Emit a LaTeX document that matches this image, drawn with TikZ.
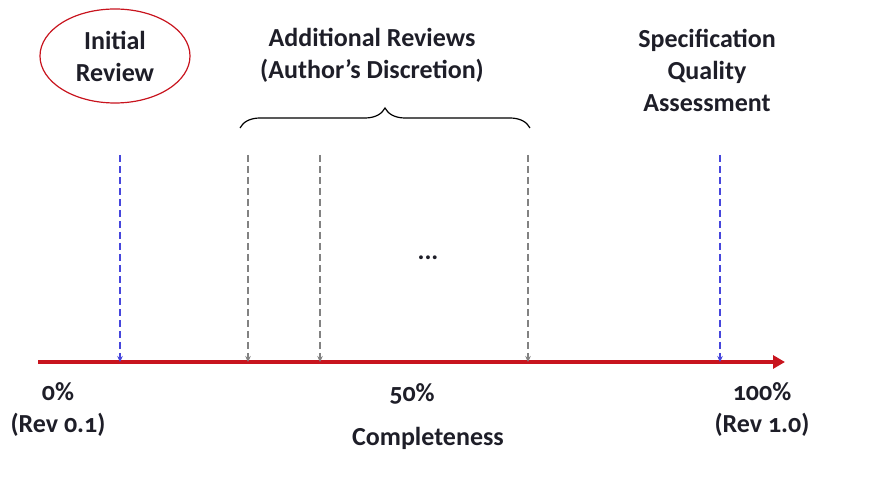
\documentclass[tikz,border=0pt]{standalone}
\usepackage{fontspec}
\setmainfont{Carlito}[Numbers=OldStyle]
\usepackage{xcolor}
\usetikzlibrary{arrows.meta,decorations.pathreplacing,shapes.geometric}

\definecolor{axisred}{RGB}{200,20,30}
\definecolor{tickblue}{RGB}{70,70,220}
\definecolor{tickgrey}{RGB}{130,130,130}
\definecolor{textdark}{RGB}{30,30,40}

\tikzset{
  label/.style={align=center, text=textdark, font=\fontsize{13}{16}\selectfont\bfseries},
  axis/.style={draw=axisred, line width=2pt, -{Triangle[length=6pt,width=6.5pt]}},
  reviewtick/.style={dash pattern=on 3.5pt off 2pt, line width=0.6pt, -{Stealth[length=3pt,width=2.8pt]}},
}

\begin{document}
\begin{tikzpicture}[x=0.5pt, y=-0.5pt]
\useasboundingbox (0,0) rectangle (875,497);

% labels at the top
\node[label, draw=axisred, line width=0.6pt, ellipse, inner sep=0pt, minimum width=75pt, minimum height=47pt] (init) at (115,56) {Initial\\Review};
\node[label] (extra) at (372,55) {Additional Reviews\\(Author's Discretion)};
\node[label] (spec) at (707,70) {Specification\\Quality\\Assessment};

% brace over the additional reviews
\coordinate (bl) at (240,128);
\coordinate (br) at (530,128);
\draw[decorate, decoration={brace, amplitude=10pt}, line width=0.6pt] (bl) -- (br);

% axis
\coordinate (start) at (38,362);
\coordinate (end) at (785,362);
\draw[axis] (start) -- (end);

% review ticks
\coordinate (t1) at (120,155);
\coordinate (b1) at (120,362);
\coordinate (t2) at (248,155);
\coordinate (b2) at (248,362);
\coordinate (t3) at (320,155);
\coordinate (b3) at (320,362);
\coordinate (t4) at (528,155);
\coordinate (b4) at (528,362);
\coordinate (t5) at (720,155);
\coordinate (b5) at (720,362);

\draw[reviewtick, tickblue] (t1) -- (b1);
\draw[reviewtick, tickgrey] (t2) -- (b2);
\draw[reviewtick, tickgrey] (t3) -- (b3);
\draw[reviewtick, tickgrey] (t4) -- (b4);
\draw[reviewtick, tickblue] (t5) -- (b5);

\node[label] (dots) at (428,258) {...};

% axis labels
\node[label] (zero) at (58,410) {0\%\\(Rev 0.1)};
\node[label] (half) at (412,394) {50\%};
\node[label] (full) at (762,410) {100\%\\(Rev 1.0)};
\node[label] (compl) at (428,438) {Completeness};
\end{tikzpicture}
\end{document}
